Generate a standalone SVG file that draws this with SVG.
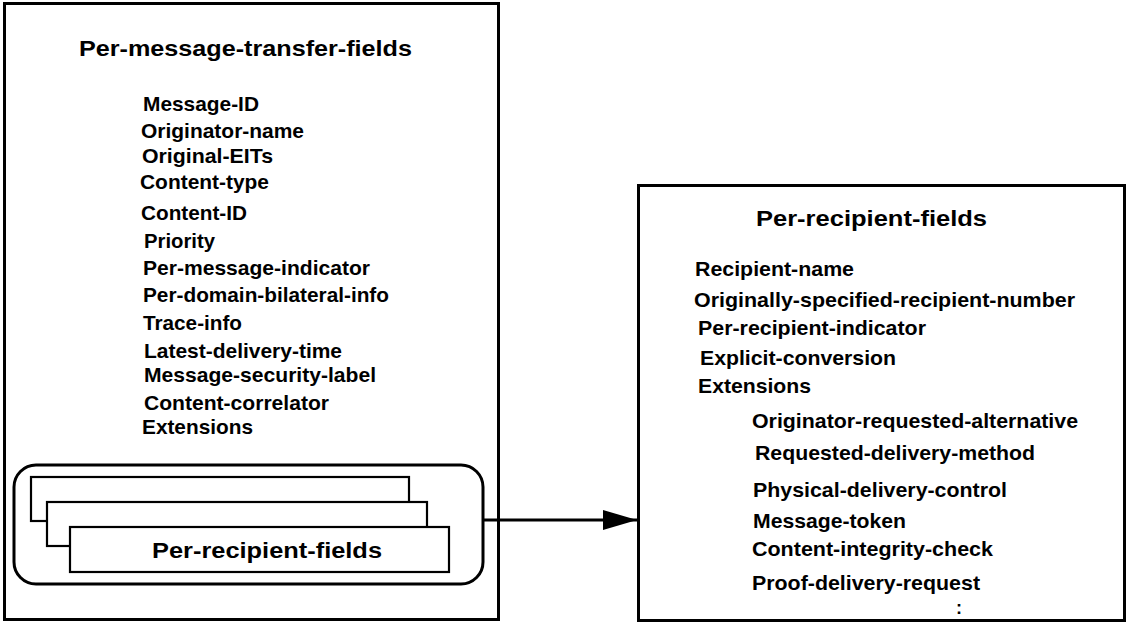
<svg xmlns="http://www.w3.org/2000/svg" width="1129" height="625" viewBox="0 0 1129 625">
<style>
  .box { fill: #fff; stroke: #000; stroke-width: 3; }
  .card { fill: #fff; stroke: #000; stroke-width: 2.2; }
  .t { font-family: "Liberation Sans", Arial, sans-serif; font-weight: bold; fill: #000; }
  .title { font-size: 22px; }
  .item { font-size: 21px; }
  .conn { stroke: #000; stroke-width: 3; fill: none; }
</style>
<defs>
  <marker id="arrow" viewBox="0 0 34 20" refX="34" refY="10" markerWidth="34" markerHeight="20" markerUnits="userSpaceOnUse" orient="auto">
    <path d="M0,0 L34,10 L0,20 Z" fill="#000"/>
  </marker>
</defs>
<rect width="1129" height="625" fill="#fff"/>

<g id="per-message-transfer-fields">
  <rect class="box" x="4.5" y="3.5" width="494" height="616"/>
  <text class="t title" x="79" y="56" textLength="333" lengthAdjust="spacingAndGlyphs">Per-message-transfer-fields</text>
  <text class="t item" x="143" y="111" textLength="116" lengthAdjust="spacingAndGlyphs">Message-ID</text>
  <text class="t item" x="141" y="138" textLength="163" lengthAdjust="spacingAndGlyphs">Originator-name</text>
  <text class="t item" x="142" y="163" textLength="131" lengthAdjust="spacingAndGlyphs">Original-EITs</text>
  <text class="t item" x="140" y="189" textLength="129" lengthAdjust="spacingAndGlyphs">Content-type</text>
  <text class="t item" x="141" y="220" textLength="106" lengthAdjust="spacingAndGlyphs">Content-ID</text>
  <text class="t item" x="144" y="248" textLength="71" lengthAdjust="spacingAndGlyphs">Priority</text>
  <text class="t item" x="143" y="275" textLength="227" lengthAdjust="spacingAndGlyphs">Per-message-indicator</text>
  <text class="t item" x="143" y="302" textLength="246" lengthAdjust="spacingAndGlyphs">Per-domain-bilateral-info</text>
  <text class="t item" x="143" y="330" textLength="99" lengthAdjust="spacingAndGlyphs">Trace-info</text>
  <text class="t item" x="144" y="358" textLength="198" lengthAdjust="spacingAndGlyphs">Latest-delivery-time</text>
  <text class="t item" x="144" y="382" textLength="232" lengthAdjust="spacingAndGlyphs">Message-security-label</text>
  <text class="t item" x="144" y="410" textLength="185" lengthAdjust="spacingAndGlyphs">Content-correlator</text>
  <text class="t item" x="142" y="434" textLength="111" lengthAdjust="spacingAndGlyphs">Extensions</text>
</g>

<g id="per-recipient-stack">
  <rect class="box" x="14" y="465" width="469" height="119" rx="22" ry="22"/>
  <rect class="card" x="31" y="477" width="378" height="44"/>
  <rect class="card" x="47" y="502" width="380" height="44"/>
  <rect class="card" x="70" y="527" width="379" height="45"/>
  <text class="t title" x="152" y="558" textLength="230" lengthAdjust="spacingAndGlyphs">Per-recipient-fields</text>
</g>

<g id="per-recipient-fields">
  <rect class="box" x="638.5" y="185.5" width="486" height="435"/>
  <text class="t title" x="756" y="226" textLength="231" lengthAdjust="spacingAndGlyphs">Per-recipient-fields</text>
  <text class="t item" x="695" y="276" textLength="159" lengthAdjust="spacingAndGlyphs">Recipient-name</text>
  <text class="t item" x="694" y="307" textLength="381" lengthAdjust="spacingAndGlyphs">Originally-specified-recipient-number</text>
  <text class="t item" x="698" y="335" textLength="228" lengthAdjust="spacingAndGlyphs">Per-recipient-indicator</text>
  <text class="t item" x="700" y="365" textLength="196" lengthAdjust="spacingAndGlyphs">Explicit-conversion</text>
  <text class="t item" x="698" y="393" textLength="113" lengthAdjust="spacingAndGlyphs">Extensions</text>
  <text class="t item" x="752" y="428" textLength="326" lengthAdjust="spacingAndGlyphs">Originator-requested-alternative</text>
  <text class="t item" x="755" y="460" textLength="280" lengthAdjust="spacingAndGlyphs">Requested-delivery-method</text>
  <text class="t item" x="753" y="497" textLength="254" lengthAdjust="spacingAndGlyphs">Physical-delivery-control</text>
  <text class="t item" x="753" y="528" textLength="153" lengthAdjust="spacingAndGlyphs">Message-token</text>
  <text class="t item" x="752" y="556" textLength="241" lengthAdjust="spacingAndGlyphs">Content-integrity-check</text>
  <text class="t item" x="752" y="590" textLength="228" lengthAdjust="spacingAndGlyphs">Proof-delivery-request</text>
  <text class="t item" x="956" y="614" font-size="18px" style="font-size:18px">:</text>
</g>

<g id="connectors">
  <line class="conn" x1="483" y1="520" x2="637" y2="520" marker-end="url(#arrow)"/>
</g>
</svg>
